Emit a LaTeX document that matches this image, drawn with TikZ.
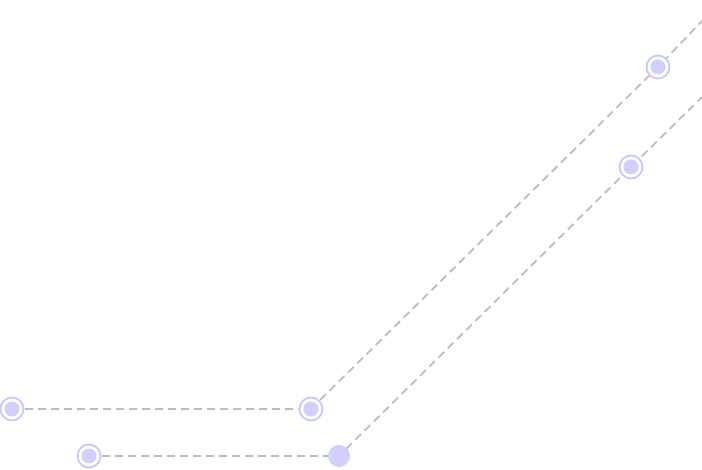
\documentclass[tikz,border=0pt]{standalone}
\definecolor{ringc}{HTML}{C8C8FF}
\definecolor{dotc}{HTML}{D0D0FF}
\definecolor{linec}{HTML}{BDBDBD}
\tikzset{
  conn/.style={draw=linec, line width=1.8pt, dash pattern=on 8pt off 5pt},
  ringnode/.style={circle, fill=white, draw=ringc, line width=1.8pt, minimum size=23pt, inner sep=0pt,
    path picture={\fill[dotc] (path picture bounding box.center) circle (7.5pt);}},
  dotnode/.style={circle, fill=dotc, draw=none, minimum size=22pt, inner sep=0pt}
}
\begin{document}
\begin{tikzpicture}[x=1pt,y=1pt]
\useasboundingbox (0,0) rectangle (702,470);
\coordinate (e1) at (702,449);
\coordinate (e2) at (702,373);
\coordinate (a1) at (12,61);
\coordinate (a2) at (311,61);
\coordinate (a3) at (658,403);
\coordinate (b1) at (89,14);
\coordinate (b2) at (339,14);
\coordinate (b3) at (631,303);
\draw[conn] (a1) -- (a2) -- (a3) -- (e1);
\draw[conn] (b1) -- (b2) -- (b3) -- (e2);
\node[ringnode] (n1) at (a1) {};
\node[ringnode] (n2) at (a2) {};
\node[ringnode] (n3) at (a3) {};
\node[ringnode] (m1) at (b1) {};
\node[dotnode] (m2) at (b2) {};
\node[ringnode] (m3) at (b3) {};
\end{tikzpicture}
\end{document}
